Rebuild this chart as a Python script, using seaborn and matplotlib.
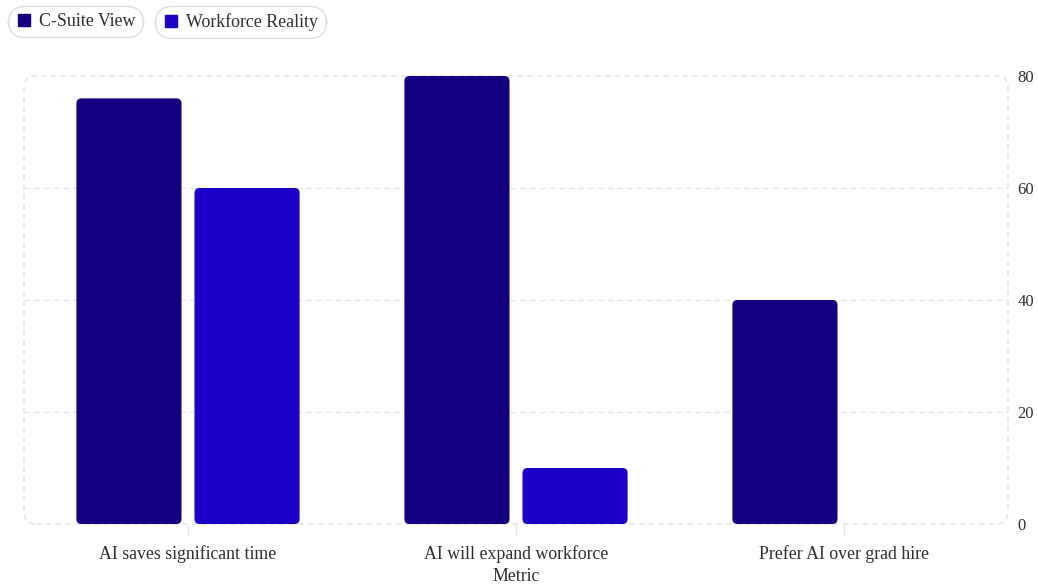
import matplotlib
matplotlib.use("Agg")
import matplotlib.pyplot as plt
from matplotlib.patches import FancyBboxPatch
from matplotlib.lines import Line2D
import numpy as np
import pandas as pd
import seaborn as sns

# ---- data ----
categories = ["AI saves significant time", "AI will expand workforce", "Prefer AI over grad hire"]
series_names = ["C-Suite View", "Workforce Reality"]
csuite_values = [76, 80, 40]
workforce_values = [60, 10, np.nan]
y_ticks = [0, 20, 40, 60, 80]
colors = ["#130080", "#1a00c8"]

rows = []
for cat, a, b in zip(categories, csuite_values, workforce_values):
    rows.append({"Metric": cat, "Series": series_names[0], "Value": a})
    rows.append({"Metric": cat, "Series": series_names[1], "Value": b})
df = pd.DataFrame(rows)

sns.set_theme(style="white")
plt.rcParams["font.family"] = ["Liberation Serif", "DejaVu Serif"]
TXT = "#2e2e2e"

W, H = 1038, 588
fig = plt.figure(figsize=(W / 100, H / 100), dpi=100)
L, R, T, B = 24, 1008, 76, 524
ax = fig.add_axes([L / W, 1 - B / H, (R - L) / W, (B - T) / H])

sns.barplot(data=df, x="Metric", y="Value", hue="Series", order=categories,
            hue_order=series_names, palette=colors, saturation=1,
            width=0.72, gap=0.11, ax=ax, legend=False, zorder=3)

ax.set_xlim(-0.5, len(categories) - 0.5)
ax.set_ylim(0, 80)

# rounded bars
px_per_x = (R - L) / len(categories)
px_per_y = (B - T) / 80
rad_px = 5
rx = rad_px / px_per_x
aspect = px_per_x / px_per_y
for p in list(ax.patches):
    x, y = p.get_x(), p.get_y()
    w, h = p.get_width(), p.get_height()
    fc = p.get_facecolor()
    p.remove()
    if h is None or not np.isfinite(h) or h == 0:
        continue
    fb = FancyBboxPatch((x, y), w, h, boxstyle=f"round,pad=0,rounding_size={rx}",
                        mutation_aspect=aspect, fc=fc, ec="none", zorder=3)
    ax.add_patch(fb)

# spines & border
for s in ax.spines.values():
    s.set_visible(False)
bw, bh = R - L, B - T
r_b = 12
border = FancyBboxPatch((0, 0), 1, 1, boxstyle=f"round,pad=0,rounding_size={r_b / bw}",
                        mutation_aspect=bw / bh, transform=ax.transAxes, fc="none",
                        ec="#e3e3e3", lw=1.0, ls=(0, (4, 3)), clip_on=False, zorder=1)
ax.add_patch(border)

# grid
ax.set_yticks(y_ticks)
ax.yaxis.grid(True, color="#e6e6e6", lw=1.0, ls=(0, (4, 3)), zorder=0)
ax.xaxis.grid(False)
gl = ax.yaxis.get_gridlines()
gl[0].set_visible(False)
gl[-1].set_visible(False)

ax.yaxis.tick_right()
ax.tick_params(axis="y", length=0, pad=7, labelsize=12, labelcolor=TXT)
ax.tick_params(axis="x", length=8, width=1, color="#e6e6e6", pad=7, labelsize=12.8,
               labelcolor=TXT, bottom=True)
ax.set_ylabel("")
ax.set_xlabel("Metric", fontsize=12.8, color=TXT, labelpad=4)

# legends as separate pills
def pill(label, color, x_px):
    h = Line2D([], [], marker="s", ls="none", markersize=8.5, markerfacecolor=color,
               markeredgecolor=color)
    leg = fig.legend(handles=[h], labels=[label], loc="upper left",
                     bbox_to_anchor=(x_px / W, 1 - 6 / H), bbox_transform=fig.transFigure,
                     borderaxespad=0, frameon=True, fancybox=True, fontsize=12.9,
                     borderpad=0.4, handletextpad=0.35, handlelength=1.0,
                     labelcolor=TXT, edgecolor="#dddddd", framealpha=1)
    leg.get_frame().set_boxstyle("round", pad=0, rounding_size=0.95)
    leg.get_frame().set_linewidth(1.0)
    return leg

pill(series_names[0], colors[0], 8)
pill(series_names[1], colors[1], 155)

fig.savefig("out.png", dpi=100)
